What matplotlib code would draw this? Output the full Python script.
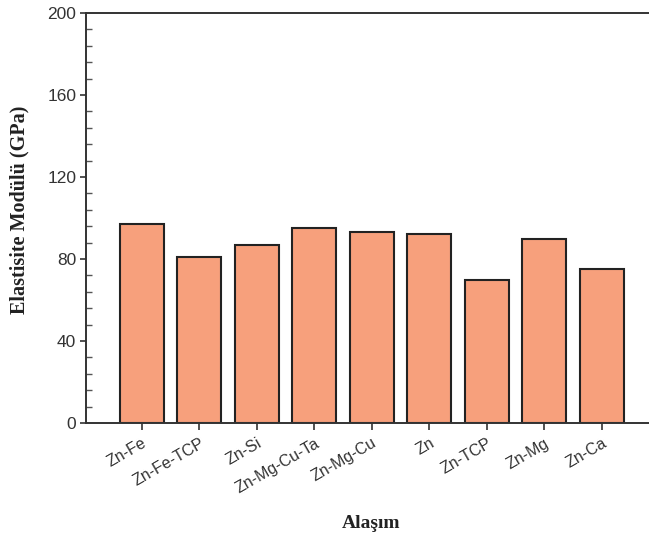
import matplotlib.pyplot as plt
from matplotlib.ticker import MultipleLocator

alloys = ["Zn-Fe", "Zn-Fe-TCP", "Zn-Si", "Zn-Mg-Cu-Ta", "Zn-Mg-Cu",
          "Zn", "Zn-TCP", "Zn-Mg", "Zn-Ca"]
modulus = [97, 81, 87, 95, 93, 92, 70, 90, 75]
yticks = [0, 40, 80, 120, 160, 200]

fig = plt.figure(figsize=(6.49, 5.45), dpi=100)
ax = fig.add_axes([86 / 649, 1 - 423 / 545, 1 - 86 / 649, (423 - 13) / 545])

x = list(range(len(alloys)))
ax.bar(x, modulus, width=0.765, color="#F7A07C", edgecolor="#222222",
       linewidth=1.5, zorder=2)

ax.set_xlim(-0.97, 8.82)
ax.set_ylim(0, 200)
ax.set_yticks(yticks)
ax.set_yticklabels([str(v) for v in yticks], fontsize=12.5,
                   family="Liberation Sans", color="#333333")
ax.yaxis.set_minor_locator(MultipleLocator(8))
ax.tick_params(axis="y", which="major", direction="out", length=4,
               width=1.2, color="#333333", pad=3)
ax.tick_params(axis="y", which="minor", direction="in", length=4,
               width=1.0, color="#555555")

ax.set_xticks(x)
ax.set_xticklabels(alloys, rotation=30, ha="right", rotation_mode="anchor",
                   fontsize=11.5, family="Liberation Sans", color="#333333")
ax.tick_params(axis="x", which="major", direction="out", length=5,
               width=1.2, color="#333333", pad=4)

for side in ["left", "bottom", "top"]:
    ax.spines[side].set_linewidth(1.4)
    ax.spines[side].set_color("#333333")
ax.spines["right"].set_visible(False)

fig.text(19 / 649, 1 - 210 / 545, "Elastisite Modülü (GPa)", rotation=90,
         ha="center", va="center", fontsize=14.5, fontweight="bold",
         family="Liberation Serif", color="#222222")
fig.text(371 / 649, 1 - 524 / 545, "Alaşım", ha="center", va="center",
         fontsize=14, fontweight="bold", family="Liberation Serif",
         color="#222222")

fig.savefig("out.png", dpi=100)
